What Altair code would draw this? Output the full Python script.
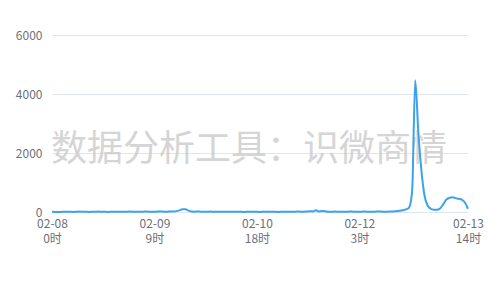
import altair as alt
import pandas as pd

# hourly index from 02-08 0时
values = [
    5, 3, 2, 4, 8, 10, 6, 4, 12, 15,
    8, 5, 3, 6, 10, 14, 9, 6, 4, 8,
    12, 10, 7, 5, 9, 13, 11, 8, 6, 10,
    15, 12, 9, 8, 14, 18, 12, 10, 15, 20,
    30, 55, 90, 95, 45, 15, 10, 20, 12, 8,
    10, 14, 9, 6, 8, 12, 10, 6, 5, 9,
    7, 5, 4, 6, 9, 8, 5, 4, 6, 8,
    10, 7, 5, 4, 6, 9, 12, 10, 8, 15,
    12, 10, 15, 25, 20, 60, 15, 30, 25, 12,
    10, 14, 12, 9, 8, 10, 14, 12, 10, 8,
    12, 15, 10, 8, 12, 18, 15, 12, 10, 14,
    20, 25, 40, 60, 90, 150, 700, 4470, 2700, 1400,
    550, 220, 110, 80, 75, 120, 260, 420, 480, 500,
    470, 450, 420, 320, 110,
]
hours = list(range(len(values)))

tick_idx = [0, 33, 66, 99, 134]
tick_date = ["02-08", "02-09", "02-10", "02-12", "02-13"]
tick_hour = ["0时", "9时", "18时", "3时", "14时"]
y_ticks = [0, 2000, 4000, 6000]
watermark = "数据分析工具：识微商情"

df = pd.DataFrame({"h": hours, "v": values})

expr = "''"
for i, d, h in reversed(list(zip(tick_idx, tick_date, tick_hour))):
    expr = f"datum.value == {i} ? ['{d}', '{h}'] : ({expr})"

FONT = "Noto Sans CJK SC"

base = alt.Chart(df)

line = base.mark_line(
    color="#3ba2ec", strokeWidth=2, interpolate="monotone"
).encode(
    x=alt.X(
        "h:Q",
        scale=alt.Scale(domain=[0, 134], nice=False, zero=False),
        axis=alt.Axis(
            values=tick_idx,
            labelExpr=expr,
            title=None,
            grid=False,
            domain=False,
            ticks=False,
            labelColor="#6e7079",
            labelFontSize=12,
            labelFont=FONT,
            labelLineHeight=15,
            labelPadding=6,
            labelOverlap=False,
            labelFlush=False,
        ),
    ),
    y=alt.Y(
        "v:Q",
        scale=alt.Scale(domain=[0, 6000], nice=False),
        axis=alt.Axis(
            values=y_ticks,
            format="d",
            title=None,
            grid=True,
            gridColor="#e0e6f1",
            domain=False,
            ticks=False,
            labelColor="#6e7079",
            labelFontSize=12,
            labelFont=FONT,
            labelPadding=10,
        ),
    ),
)

wm = alt.Chart(pd.DataFrame({"t": [watermark]})).mark_text(
    fontSize=36, font=FONT, color="#c8c8c8", opacity=0.75,
    align="center", baseline="middle",
).encode(text="t:N", x=alt.value(197), y=alt.value(115))

chart = alt.layer(wm, line).properties(
    width=416, height=177,
    autosize=alt.AutoSizeParams(type="none"),
    padding={"left": 52, "top": 35, "right": 32, "bottom": 88},
).configure_view(stroke=None)

chart.save("out.html", embed_options={"renderer": "svg", "actions": False})
